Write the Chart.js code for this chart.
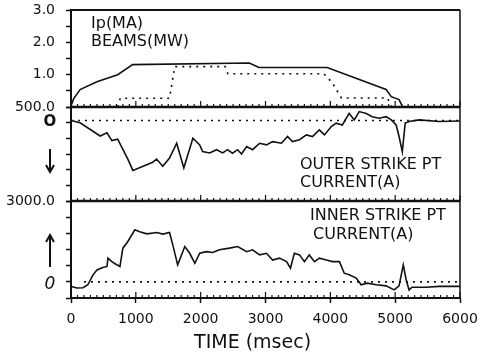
<!DOCTYPE html>
<html>
<head>
<meta charset="utf-8">
<script src="https://cdn.jsdelivr.net/npm/chart.js@4"></script>
<style>
  html, body { margin: 0; padding: 0; background: #fff; }
  #c { display: block; }
</style>
</head>
<body>
<canvas id="c" width="484" height="359"></canvas>
<script>
// Plasma current (MA) and beam power (MW) against time (msec)
const ipTime = [0, 40, 140, 400, 720, 950, 2750, 2900, 3950, 4860, 4940, 5060, 5110];
const ipMA   = [0.03, 0.25, 0.54, 0.78, 1.0, 1.31, 1.36, 1.22, 1.22, 0.54, 0.32, 0.23, 0.03];

const beamTime = [720, 760, 1520, 1600, 2380, 2420, 3900, 4030, 4170, 4880, 4950];
const beamMW   = [0, 0.27, 0.27, 1.25, 1.25, 1.03, 1.03, 0.75, 0.28, 0.28, 0];

// Outer strike point current (A), plotted negative downward
const outerTime = [0, 140, 450, 555, 630, 720, 880, 955, 1260, 1320, 1415, 1520, 1630, 1740, 1880, 1985,
  2030, 2140, 2245, 2340, 2415, 2490, 2570, 2630, 2710, 2800, 2910, 3015, 3110, 3245, 3340, 3415, 3525,
  3630, 3725, 3830, 3910, 4015, 4090, 4185, 4290, 4370, 4445, 4555, 4645, 4755, 4860, 4940, 5015, 5060,
  5110, 5155, 5215, 5370, 5680, 6000];
const outerAmps = [0, -90, -580, -460, -750, -700, -1460, -1860, -1560, -1440, -1710, -1400, -850, -1770, -660, -910,
  -1160, -1210, -1090, -1210, -1090, -1220, -1090, -1250, -970, -1090, -850, -910, -790, -850, -600, -790, -720,
  -540, -600, -350, -540, -230, -100, -170, 260, 20, 330, 260, 140, 80, 140, 20, -170, -600,
  -1160, -100, -40, 20, -40, -20];

// Inner strike point current (A)
const innerTime = [0, 90, 185, 260, 340, 400, 490, 555, 570, 630, 680, 755, 800, 875, 985, 1060, 1170, 1325,
  1415, 1520, 1570, 1645, 1755, 1830, 1910, 1985, 2090, 2185, 2290, 2445, 2570, 2710, 2800, 2910, 3015,
  3110, 3215, 3325, 3385, 3445, 3525, 3600, 3675, 3755, 3830, 3940, 4030, 4140, 4215, 4290, 4400, 4475,
  4570, 4710, 4860, 4985, 5060, 5125, 5170, 5215, 5260, 5475, 5680, 6000];
const innerAmps = [-170, -230, -220, -110, 260, 440, 530, 570, 880, 750, 670, 570, 1250, 1490, 1930, 1860, 1780, 1830,
  1770, 1830, 1370, 630, 1310, 1060, 690, 1060, 1120, 1090, 1190, 1250, 1310, 1120, 1190, 1000, 1060,
  810, 880, 750, 510, 1060, 1000, 750, 1000, 750, 880, 810, 750, 750, 320, 260, 140, -110,
  -50, -110, -150, -300, -150, 630, 70, -300, -200, -200, -170, -170];

// Zero reference lines
const outerZeroTime = [0, 6000];
const innerZeroTime = [200, 6000];

// Axis ticks and their labels
const timeTicks = [0, 1000, 2000, 3000, 4000, 5000, 6000];
const timeTickLabels = ['0', '1000', '2000', '3000', '4000', '5000', '6000'];
const ipAxisTicks = [0, 0.5, 1, 1.5, 2, 2.5, 3];
const ipAxisLabels = ['', '', '1.0', '', '2.0', '', '3.0'];
const outerAxisRange = [-3000, 500];
const outerAxisLabels = ['', '', '', '', '', '', '500.0'];
const innerAxisTicks = [-600, 0, 600, 1200, 1800, 2400, 3000];
const innerAxisLabels = ['', '', '', '', '', '', '3000.0'];

const INK = '#111';
const FONT = 'DejaVu Sans';

function points(xs, ys) {
  return xs.map((x, i) => ({ x: x, y: ys[i] }));
}
function zeros(xs) {
  return xs.map(x => ({ x: x, y: 0 }));
}

function solid(data, axis) {
  return { data, yAxisID: axis, xAxisID: 'x', borderColor: INK, borderWidth: 1.6,
    pointRadius: 0, tension: 0, fill: false };
}
function dotted(data, axis) {
  return { data, yAxisID: axis, xAxisID: 'x', borderColor: INK, borderWidth: 1.6,
    borderDash: [2, 5], borderCapStyle: 'butt', pointRadius: 0, tension: 0, fill: false };
}

// keep the layout box exactly where the padding puts it
function noScalePadding(s) {
  s.paddingTop = 0; s.paddingBottom = 0; s.paddingLeft = 0; s.paddingRight = 0;
}

function panelAxis(weight, stackWeight, min, max, tickValues, labels) {
  return {
    type: 'linear', position: 'left', stack: 'panels', stackWeight, weight,
    min, max, offset: false,
    afterFit: s => { s.width = 71; noScalePadding(s); },
    afterBuildTicks: s => { s.ticks = tickValues.map(v => ({ value: v })); },
    border: { display: true, color: INK, width: 2 },
    grid: { drawOnChartArea: false, drawTicks: true, tickLength: 5, tickWidth: 1.5, tickColor: INK },
    ticks: { autoSkip: false, padding: 11, color: INK, font: { family: FONT, size: 14 },
      callback: (v, i) => labels[i] }
  };
}

const outerTickValues = [];
for (let i = 0; i <= 6; i++) {
  outerTickValues.push(outerAxisRange[0] + (outerAxisRange[1] - outerAxisRange[0]) * i / 6);
}

const decorations = {
  id: 'decorations',
  afterDraw(chart) {
    const { ctx, chartArea: a, scales } = chart;
    const xs = scales.x;
    const dividers = [scales.yOuter.top, scales.yInner.top];
    const seg = (x1, y1, x2, y2) => { ctx.beginPath(); ctx.moveTo(x1, y1); ctx.lineTo(x2, y2); ctx.stroke(); };
    ctx.save();
    ctx.strokeStyle = INK;
    ctx.fillStyle = INK;

    // frame
    ctx.lineWidth = 2;
    seg(a.left, a.top, a.right, a.top);
    ctx.lineWidth = 1.5;
    seg(a.right, a.top, a.right, a.bottom);
    ctx.lineWidth = 2.5;
    dividers.forEach(y => seg(a.left, y, a.right, y));

    // inward time ticks on each panel base
    ctx.lineWidth = 1.2;
    for (let t = 0; t <= 6000; t += 100) {
      const px = xs.getPixelForValue(t);
      const len = t % 1000 === 0 ? 6 : 3;
      dividers.concat([a.bottom]).forEach(y => seg(px, y, px, y - len));
    }

    // panel captions
    ctx.textAlign = 'left';
    ctx.textBaseline = 'alphabetic';
    ctx.font = '16px ' + FONT;
    ctx.fillText('Ip(MA)', a.left + 20, a.top + 18);
    ctx.fillText('BEAMS(MW)', a.left + 20, a.top + 36);
    ctx.fillText('OUTER STRIKE PT', a.left + 229, scales.yOuter.top + 62);
    ctx.fillText('CURRENT(A)', a.left + 229, scales.yOuter.top + 80);
    ctx.fillText('INNER STRIKE PT', a.left + 239, scales.yInner.top + 19);
    ctx.fillText('CURRENT(A)', a.left + 242, scales.yInner.top + 38);

    // zero markers and direction arrows
    const mx = a.left - 21;
    ctx.textAlign = 'center';
    ctx.textBaseline = 'middle';
    ctx.font = 'bold 15px ' + FONT;
    ctx.fillText('O', mx, scales.yOuter.getPixelForValue(0) + 2);
    ctx.font = 'italic 17px ' + FONT;
    ctx.fillText('0', mx, scales.yInner.getPixelForValue(0) + 3);

    ctx.lineWidth = 2;
    const down0 = scales.yOuter.top + 42, down1 = scales.yOuter.top + 65;
    seg(mx, down0, mx, down1);
    ctx.beginPath(); ctx.moveTo(mx - 4, down1 - 7); ctx.lineTo(mx, down1); ctx.lineTo(mx + 4, down1 - 7); ctx.stroke();
    const up0 = scales.yInner.top + 34, up1 = scales.yInner.top + 66;
    seg(mx, up0, mx, up1);
    ctx.beginPath(); ctx.moveTo(mx - 4, up0 + 7); ctx.lineTo(mx, up0); ctx.lineTo(mx + 4, up0 + 7); ctx.stroke();

    // time axis title
    ctx.textAlign = 'center';
    ctx.textBaseline = 'alphabetic';
    ctx.font = '19px ' + FONT;
    ctx.fillText('TIME (msec)', xs.getPixelForValue(2800), a.bottom + 50);
    ctx.restore();
  }
};

new Chart(document.getElementById('c'), {
  type: 'line',
  data: {
    datasets: [
      solid(points(ipTime, ipMA), 'yIp'),
      dotted(points(beamTime, beamMW), 'yIp'),
      solid(points(outerTime, outerAmps), 'yOuter'),
      dotted(zeros(outerZeroTime), 'yOuter'),
      solid(points(innerTime, innerAmps), 'yInner'),
      dotted(zeros(innerZeroTime), 'yInner')
    ]
  },
  options: {
    responsive: false,
    animation: false,
    devicePixelRatio: 1,
    layout: { padding: { top: 10, right: 24, left: 0, bottom: 0 } },
    plugins: { legend: { display: false }, tooltip: { enabled: false } },
    scales: {
      x: {
        type: 'linear', position: 'bottom', min: 0, max: 6000,
        afterFit: s => { s.height = 61; noScalePadding(s); },
        afterBuildTicks: s => { s.ticks = timeTicks.map(v => ({ value: v })); },
        border: { display: true, color: INK, width: 2 },
        grid: { drawOnChartArea: false, tickLength: 5, tickWidth: 1.5, tickColor: INK },
        ticks: { autoSkip: false, maxRotation: 0, padding: 8, color: INK,
          font: { family: FONT, size: 14 }, callback: (v, i) => timeTickLabels[i] }
      },
      yIp: panelAxis(3, 97, 0, 3, ipAxisTicks, ipAxisLabels),
      yOuter: panelAxis(2, 94, outerAxisRange[0], outerAxisRange[1], outerTickValues, outerAxisLabels),
      yInner: panelAxis(1, 97, -600, 3000, innerAxisTicks, innerAxisLabels)
    }
  },
  plugins: [decorations]
});
</script>
</body>
</html>
